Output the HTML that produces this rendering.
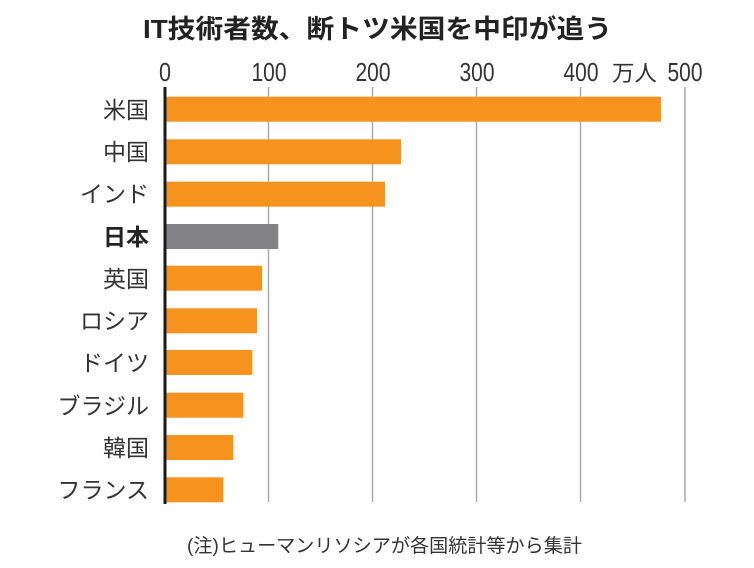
<!DOCTYPE html>
<html><head><meta charset="utf-8"><style>
html,body{margin:0;padding:0;background:#fff;}
svg{display:block;}
text{font-family:"Liberation Sans","Noto Sans CJK JP",sans-serif;}
</style></head><body>
<svg width="754" height="568" viewBox="0 0 754 568" xmlns="http://www.w3.org/2000/svg">
<rect width="754" height="568" fill="#fff"/>
<text x="143" y="38" font-size="26" font-weight="bold" fill="#222" textLength="469" lengthAdjust="spacingAndGlyphs">IT技術者数、断トツ米国を中印が追う</text>
<g font-size="26" fill="#333" text-anchor="middle">
<text x="165" y="81" textLength="12" lengthAdjust="spacingAndGlyphs">0</text>
<text x="269" y="81" textLength="35" lengthAdjust="spacingAndGlyphs">100</text>
<text x="373" y="81" textLength="35" lengthAdjust="spacingAndGlyphs">200</text>
<text x="477" y="81" textLength="35" lengthAdjust="spacingAndGlyphs">300</text>
<text x="581" y="81" textLength="35" lengthAdjust="spacingAndGlyphs">400</text>
<text x="685" y="81" textLength="35" lengthAdjust="spacingAndGlyphs">500</text>
</g>
<text x="612" y="81" font-size="22" fill="#333" textLength="45" lengthAdjust="spacingAndGlyphs">万人</text>
<g stroke="#aaa" stroke-width="1.5">
<line x1="268.5" y1="87" x2="268.5" y2="502"/>
<line x1="372.5" y1="87" x2="372.5" y2="502"/>
<line x1="476.5" y1="87" x2="476.5" y2="502"/>
<line x1="580.5" y1="87" x2="580.5" y2="502"/>
<line x1="685" y1="87" x2="685" y2="502"/>
</g>
<g fill="#F6931F">
<rect x="166" y="96.7" width="495" height="25"/>
<rect x="166" y="139.3" width="235" height="25"/>
<rect x="166" y="181.7" width="219" height="25"/>
<rect x="166" y="265.7" width="96" height="25"/>
<rect x="166" y="308.3" width="91" height="25"/>
<rect x="166" y="350" width="86.3" height="25"/>
<rect x="166" y="392.7" width="77.3" height="25"/>
<rect x="166" y="435" width="67.3" height="25"/>
<rect x="166" y="477.3" width="57.3" height="25"/>
</g>
<rect x="166" y="224" width="112.3" height="25" fill="#838387"/>
<line x1="165" y1="87" x2="165" y2="504" stroke="#1a1a1a" stroke-width="3"/>
<g font-size="23" fill="#333" text-anchor="end">
<text x="149" y="118">米国</text>
<text x="149" y="160">中国</text>
<text x="149" y="202">インド</text>
<text x="149" y="245" font-weight="bold" fill="#222">日本</text>
<text x="149" y="287">英国</text>
<text x="149" y="329">ロシア</text>
<text x="149" y="371">ドイツ</text>
<text x="149" y="414">ブラジル</text>
<text x="149" y="456">韓国</text>
<text x="149" y="498">フランス</text>
</g>
<text x="187" y="552" font-size="19" fill="#333" textLength="395" lengthAdjust="spacingAndGlyphs">(注)ヒューマンリソシアが各国統計等から集計</text>
</svg>
</body></html>
